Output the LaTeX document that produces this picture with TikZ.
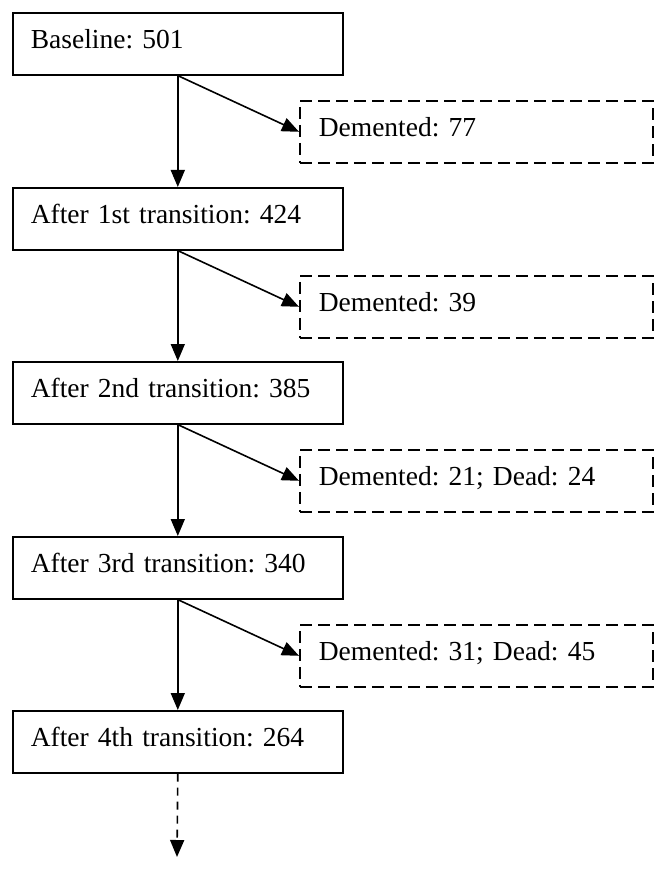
\documentclass[tikz,border=0pt]{standalone}
\usepackage{fontspec}
\setmainfont{Liberation Serif}
\usetikzlibrary{arrows.meta}
\frenchspacing

\begin{document}
\begin{tikzpicture}[x=1pt, y=-1pt,
    stage/.style={draw, line width=1.6pt, anchor=north west, text width=294pt,
        inner xsep=18pt, inner ysep=0pt, text height=36pt, text depth=26pt,
        align=left, font=\fontsize{27.5}{32}\selectfont},
    lost/.style={stage, dash pattern=on 12pt off 6pt, text width=315pt, inner xsep=19pt},
    flow/.style={line width=1.6pt, -{Triangle[length=17pt,width=14pt]}}]

    \useasboundingbox (0,0) rectangle (665,869);

    \node[stage] (b0) at (12,12) {Baseline: 501};
    \node[lost] (d1) at (299,100) {Demented: 77};
    \node[stage] (b1) at (12,187) {After 1st transition: 424};
    \node[lost] (d2) at (299,275) {Demented: 39};
    \node[stage] (b2) at (12,361) {After 2nd transition: 385};
    \node[lost] (d3) at (299,449) {Demented: 21; Dead: 24};
    \node[stage] (b3) at (12,536) {After 3rd transition: 340};
    \node[lost] (d4) at (299,624) {Demented: 31; Dead: 45};
    \node[stage] (b4) at (12,710) {After 4th transition: 264};
    \coordinate (next) at (177,857);

    \draw[flow] (b0.south) -- (b1.north);
    \draw[flow] (b1.south) -- (b2.north);
    \draw[flow] (b2.south) -- (b3.north);
    \draw[flow] (b3.south) -- (b4.north);

    \draw[flow] (b0.south) -- (d1.west);
    \draw[flow] (b1.south) -- (d2.west);
    \draw[flow] (b2.south) -- (d3.west);
    \draw[flow] (b3.south) -- (d4.west);

    \draw[flow, dash pattern=on 8pt off 6pt] (b4.south) -- (next);

\end{tikzpicture}
\end{document}
